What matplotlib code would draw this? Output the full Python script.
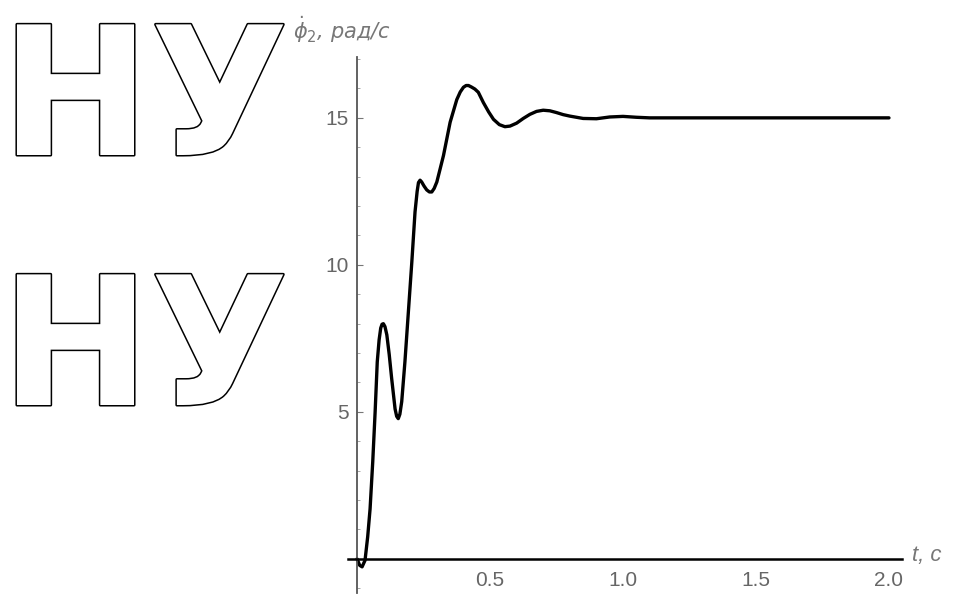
import matplotlib
matplotlib.use("Agg")
import matplotlib.pyplot as plt
import matplotlib.patheffects as pe
from matplotlib.ticker import MultipleLocator, FixedLocator

# data
t = [0.0, 0.010, 0.019, 0.030, 0.040, 0.049, 0.059, 0.068, 0.076, 0.083, 0.089,
     0.094, 0.099, 0.105, 0.112, 0.121, 0.130, 0.143, 0.149, 0.155, 0.161,
     0.168, 0.180, 0.193, 0.206, 0.218, 0.226, 0.231, 0.237, 0.243, 0.252,
     0.262, 0.272, 0.281, 0.290, 0.300, 0.312, 0.325, 0.350, 0.375, 0.388,
     0.400, 0.410, 0.419, 0.430, 0.443, 0.456, 0.475, 0.495, 0.513, 0.535,
     0.556, 0.575, 0.600, 0.625, 0.650, 0.675, 0.700, 0.725, 0.750, 0.775,
     0.800, 0.850, 0.900, 0.950, 1.000, 1.050, 1.100, 1.500, 2.000]
w = [0.0, -0.22, -0.27, -0.05, 0.75, 1.70, 3.30, 5.00, 6.70, 7.45, 7.85,
     7.98, 8.00, 7.90, 7.62, 6.95, 6.15, 5.10, 4.85, 4.77, 4.92,
     5.35, 6.70, 8.40, 10.10, 11.80, 12.50, 12.80, 12.88, 12.82, 12.68,
     12.55, 12.48, 12.48, 12.60, 12.82, 13.25, 13.72, 14.85, 15.62, 15.88,
     16.04, 16.10, 16.10, 16.05, 15.98, 15.87, 15.52, 15.20, 14.95, 14.77,
     14.70, 14.72, 14.82, 14.98, 15.12, 15.22, 15.26, 15.24, 15.18, 15.11,
     15.06, 14.98, 14.97, 15.03, 15.05, 15.02, 15.0, 15.0, 15.0]
xticks = [0.5, 1.0, 1.5, 2.0]
xticklabels = ["0.5", "1.0", "1.5", "2.0"]
yticks = [5, 10, 15]
yticklabels = ["5", "10", "15"]
ylabel = r"$\dot{\phi}_2$, рад/с"
xlabel = "t, с"
side_text = "НУ"

fig = plt.figure(figsize=(9.63, 5.98), dpi=100)
fig.patch.set_facecolor("white")

# left decorative outlined letters
for yb in [(598 - 155) / 598, (598 - 405) / 598]:
    fig.text(0.5 / 963, yb, side_text, fontsize=129,
             fontweight="bold", family="DejaVu Sans", color="white",
             ha="left", va="baseline",
             path_effects=[pe.withStroke(linewidth=2.2, foreground="black")])

ax = fig.add_axes([348 / 963, 5 / 598, 554 / 963, 536 / 598])
ax.plot(t, w, color="black", lw=2.4, solid_capstyle="round",
        solid_joinstyle="round")
ax.set_xlim(-0.034, 2.049)
ax.set_ylim(-1.16, 17.07)

for s in ["top", "right"]:
    ax.spines[s].set_visible(False)
ax.spines["left"].set_position(("data", 0))
ax.spines["bottom"].set_position(("data", 0))
ax.spines["left"].set_color("#555555")
ax.spines["left"].set_linewidth(1.3)
ax.spines["bottom"].set_color("black")
ax.spines["bottom"].set_linewidth(1.8)

ax.xaxis.set_major_locator(FixedLocator(xticks))
ax.set_xticklabels(xticklabels)
ax.xaxis.set_minor_locator(MultipleLocator(0.1))
ax.yaxis.set_major_locator(FixedLocator(yticks))
ax.set_yticklabels(yticklabels)
ax.yaxis.set_minor_locator(MultipleLocator(1))

ax.tick_params(axis="both", which="major", direction="in", length=4, width=0.8,
               color="#777777", labelcolor="#666666", labelsize=15,
               labelfontfamily="Liberation Sans")
ax.tick_params(axis="both", which="minor", direction="in", length=2.5, width=0.6,
               color="#999999")
ax.tick_params(axis="x", which="both", length=0)
ax.tick_params(axis="x", pad=9)
ax.tick_params(axis="y", pad=6)

fig.text(293 / 963, 1 - 30 / 598, ylabel, fontsize=15, style="italic",
         color="#777777", ha="left", va="center", family="DejaVu Sans")
fig.text(912 / 963, 1 - 556 / 598, xlabel, fontsize=16, style="italic",
         color="#777777", ha="left", va="center", family="Liberation Sans")

fig.savefig("out.png", dpi=100, facecolor="white")
